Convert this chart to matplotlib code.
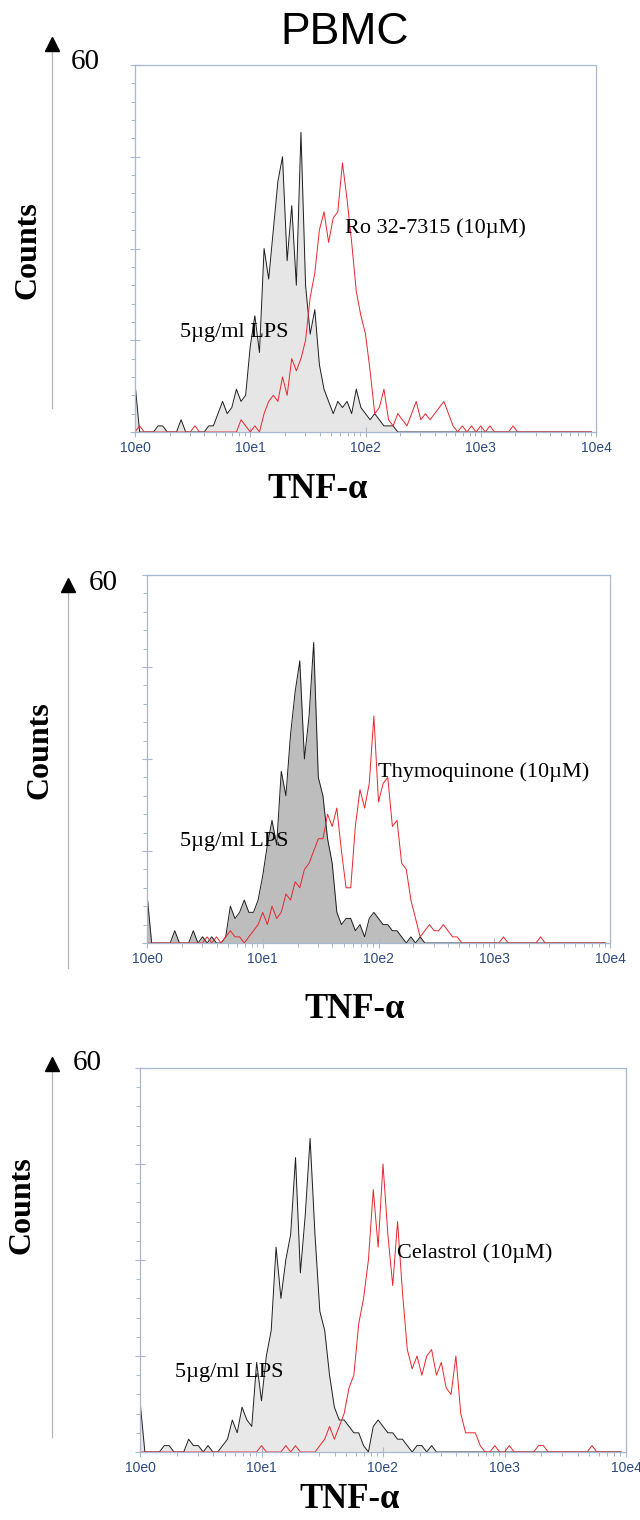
"""PBMC TNF-alpha flow cytometry histograms (LPS vs. inhibitor)."""

import matplotlib
matplotlib.use('Agg')
import matplotlib.pyplot as plt
from matplotlib.ticker import FixedLocator, MultipleLocator, LogLocator, NullFormatter
import numpy as np

# channel positions: log10(TNF-alpha), 25 bins per decade
channel_log = np.arange(100) * 0.04

# counts per channel, one row per decade (10e0, 10e1, 10e2, 10e3)
lps_1 = [8, 0, 0, 0, 0, 1, 1, 0, 0, 0, 2, 0, 0, 0, 0, 0, 1, 1, 3, 5, 3, 4, 7, 5, 6,
         14, 19, 13, 30, 25, 33, 41, 45, 28, 37, 24, 49, 24, 16, 20, 11, 7, 5, 3, 5, 4, 5, 3, 7, 4,
         3, 2, 3, 2, 1, 1, 1, 0, 0, 0, 0, 0, 0, 0, 0, 0, 0, 0, 0, 0, 0, 0, 0, 0, 0,
         0, 0, 0, 0, 0, 0, 0, 0, 0, 0, 0, 0, 0, 0, 0, 0, 0, 0, 0, 0, 0, 0, 0, 0, 0]
ro_1 = [0, 1, 0, 0, 0, 0, 0, 0, 0, 0, 0, 0, 0, 1, 0, 0, 0, 0, 0, 0, 0, 0, 0, 2, 1,
        0, 1, 0, 3, 5, 6, 5, 9, 6, 12, 10, 12, 15, 22, 26, 33, 36, 31, 35, 36, 44, 38, 31, 23, 19,
        16, 10, 3, 4, 7, 2, 1, 3, 2, 1, 3, 5, 2, 3, 2, 3, 4, 5, 3, 1, 0, 1, 0, 1, 0,
        1, 0, 1, 0, 0, 0, 0, 1, 0, 0, 0, 0, 0, 0, 0, 0, 0, 0, 0, 0, 0, 0, 0, 0, 0]

lps_2 = [8, 0, 0, 0, 0, 0, 2, 0, 0, 0, 2, 0, 1, 0, 1, 0, 0, 1, 6, 4, 5, 7, 5, 5, 7,
         11, 16, 20, 16, 28, 24, 34, 41, 46, 30, 37, 49, 27, 24, 17, 13, 5, 3, 4, 4, 2, 3, 1, 4, 5,
         4, 3, 3, 2, 2, 1, 0, 1, 0, 1, 0, 0, 0, 0, 0, 0, 0, 0, 0, 0, 0, 0, 0, 0, 0,
         0, 0, 0, 0, 0, 0, 0, 0, 0, 0, 0, 0, 0, 0, 0, 0, 0, 0, 0, 0, 0, 0, 0, 0, 0]
thymo_2 = [0, 0, 0, 0, 0, 0, 0, 0, 0, 0, 0, 0, 0, 1, 0, 1, 0, 1, 2, 1, 1, 0, 1, 2, 3,
           5, 3, 6, 4, 5, 8, 7, 10, 9, 12, 13, 15, 17, 17, 21, 19, 22, 15, 9, 9, 19, 25, 22, 26, 37,
           23, 26, 27, 19, 20, 13, 12, 7, 4, 1, 2, 3, 2, 2, 3, 2, 1, 1, 0, 0, 0, 0, 0, 0, 0,
           0, 0, 1, 0, 0, 0, 0, 0, 0, 0, 1, 0, 0, 0, 0, 0, 0, 0, 0, 0, 0, 0, 0, 0, 0]

lps_3 = [8, 0, 0, 0, 0, 1, 1, 0, 0, 0, 2, 1, 1, 0, 1, 0, 0, 1, 2, 5, 3, 7, 5, 4, 14,
         8, 15, 19, 32, 24, 30, 34, 46, 28, 37, 49, 34, 22, 19, 12, 7, 5, 5, 4, 3, 3, 1, 0, 4, 5,
         4, 3, 3, 2, 2, 1, 0, 1, 1, 0, 1, 0, 0, 0, 0, 0, 0, 0, 0, 0, 0, 0, 0, 0, 0,
         0, 0, 0, 0, 0, 0, 0, 0, 0, 0, 0, 0, 0, 0, 0, 0, 0, 0, 0, 0, 0, 0, 0, 0, 0]
cela_3 = [0, 0, 0, 0, 0, 0, 0, 0, 0, 0, 0, 0, 0, 0, 0, 0, 0, 0, 0, 0, 0, 0, 0, 0, 0,
          1, 0, 0, 0, 0, 1, 0, 1, 0, 0, 0, 0, 1, 2, 4, 2, 4, 6, 10, 12, 20, 24, 30, 41, 32,
          45, 34, 26, 36, 25, 16, 13, 15, 12, 15, 16, 12, 14, 10, 9, 15, 6, 3, 3, 3, 1, 0, 0, 1, 0,
          0, 1, 0, 0, 0, 0, 0, 1, 1, 0, 0, 0, 0, 0, 0, 0, 0, 0, 1, 0, 0, 0, 0, 0, 0]

decade_labels = ['10e0', '10e1', '10e2', '10e3', '10e4']
treatment_labels = ['Ro 32-7315 (10\u00b5M)', 'Thymoquinone (10\u00b5M)', 'Celastrol (10\u00b5M)']
lps_label = '5\u00b5g/ml LPS'

SERIF = 'Liberation Serif'
SANS = 'Liberation Sans'
FRAME = '#a7b8cf'
TICKTXT = '#2c4a80'
RED = '#e8262c'

W, H = 640, 1520


def fx(px):
    return px / W


def fy(py):
    return 1 - py / H


# panel layout in pixels: (left, right, top, bottom)
panels = [
    dict(box=(135, 596, 65, 432), lps=lps_1, treat=ro_1, fill='#e6e6e6',
         lps_pos=(2.46, 16.2), treat_pos=(66, 33.3),
         arrow_x=52, arrow_top=44, arrow_bot=408, num=(85, 62),
         counts=(28, 250), xlab=(318, 490)),
    dict(box=(147, 610, 575, 943), lps=lps_2, treat=thymo_2, fill='#bdbdbd',
         lps_pos=(1.93, 16.5), treat_pos=(99, 27.9),
         arrow_x=68, arrow_top=585, arrow_bot=968, num=(103, 583),
         counts=(40, 750), xlab=(355, 1010)),
    dict(box=(140, 626, 1068, 1452), lps=lps_3, treat=cela_3, fill='#e8e8e8',
         lps_pos=(1.94, 12.5), treat_pos=(130, 31.1),
         arrow_x=52, arrow_top=1064, arrow_bot=1437, num=(87, 1063),
         counts=(22, 1205), xlab=(350, 1499)),
]

fig = plt.figure(figsize=(W / 100, H / 100), dpi=100)
fig.text(fx(345), fy(33), 'PBMC', family=SANS, fontsize=32, ha='center', va='center')

x = 10 ** channel_log

for i, p in enumerate(panels):
    l, r, t, b = p['box']
    ax = fig.add_axes([fx(l), fy(b), (r - l) / W, (b - t) / H])
    ax.fill_between(x, 0, p['lps'], color=p['fill'], lw=0)
    ax.plot(x, p['lps'], color='#1e1e1e', lw=0.7)
    ax.plot(x, p['treat'], color=RED, lw=0.7)

    ax.set_xscale('log')
    ax.set_xlim(1, 1e4)
    ax.set_ylim(0, 60)
    ax.xaxis.set_major_locator(FixedLocator([1, 10, 100, 1000, 10000]))
    ax.xaxis.set_minor_locator(LogLocator(base=10, subs=np.arange(2, 10)))
    ax.xaxis.set_minor_formatter(NullFormatter())
    ax.set_xticklabels(decade_labels, family=SANS, fontsize=10, color=TICKTXT)
    ax.yaxis.set_major_locator(MultipleLocator(15))
    ax.yaxis.set_minor_locator(MultipleLocator(3))
    ax.set_yticklabels([])
    ax.tick_params(which='major', direction='inout', length=7, width=0.8, color=FRAME, pad=3)
    ax.tick_params(which='minor', direction='out', length=3, width=0.7, color=FRAME)
    for s in ax.spines.values():
        s.set_color(FRAME)
        s.set_linewidth(0.9)

    ax.text(*p['lps_pos'], lps_label, family=SERIF, fontsize=16, va='center', ha='left')
    ax.text(*p['treat_pos'], treatment_labels[i], family=SERIF, fontsize=16,
            va='center', ha='left')

    # y-axis arrow, "60" and labels drawn in figure space
    ax_x = fx(p['arrow_x'])
    fig.add_artist(plt.Line2D([ax_x, ax_x], [fy(p['arrow_top']), fy(p['arrow_bot'])],
                              color='#b5b5b5', lw=0.9, transform=fig.transFigure))
    fig.add_artist(plt.Line2D([ax_x], [fy(p['arrow_top'])], marker='^', markersize=10,
                              color='black', transform=fig.transFigure))
    fig.text(fx(p['num'][0]), fy(p['num'][1]), '60', family=SERIF, fontsize=21,
             ha='center', va='center')
    fig.text(fx(p['counts'][0]), fy(p['counts'][1]), 'Counts', family=SERIF,
             fontsize=23, fontweight='bold', rotation=90, ha='center', va='center')
    fig.text(fx(p['xlab'][0]), fy(p['xlab'][1]), 'TNF-\u03b1', family=SERIF,
             fontsize=25, fontweight='bold', ha='center', va='center')

fig.savefig('out.png', dpi=100)
